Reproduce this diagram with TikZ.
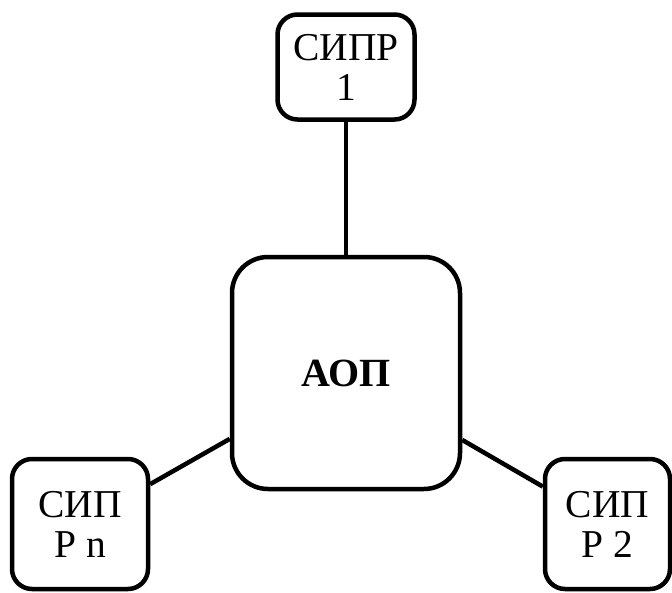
\documentclass[tikz,border=0pt]{standalone}
\usepackage{fontspec}
\setmainfont{Liberation Serif}
\begin{document}
\begin{tikzpicture}[x=1pt,y=-1pt,
  box/.style={draw=black, line width=4.5pt, fill=white, rounded corners=20pt, inner sep=0pt,
    align=center, font=\fontsize{39.5}{40}\selectfont},
  link/.style={draw=black, line width=4.5pt}]
\useasboundingbox (0,0) rectangle (672,592);
\node[box, minimum width=137pt, minimum height=105pt] (top) at (346,67) {СИПР\\1};
\node[box, minimum width=228pt, minimum height=232pt, rounded corners=36pt,
  font=\fontsize{40}{40}\selectfont\bfseries] (c) at (346,373) {АОП};
\node[box, minimum width=136pt, minimum height=130pt] (bl) at (80,524) {СИП\\Р n};
\node[box, minimum width=125pt, minimum height=130pt] (br) at (607.5,524) {СИП\\Р 2};
\draw[link] (top) -- (c);
\draw[link] (bl) -- (c);
\draw[link] (br) -- (c);
\end{tikzpicture}
\end{document}
